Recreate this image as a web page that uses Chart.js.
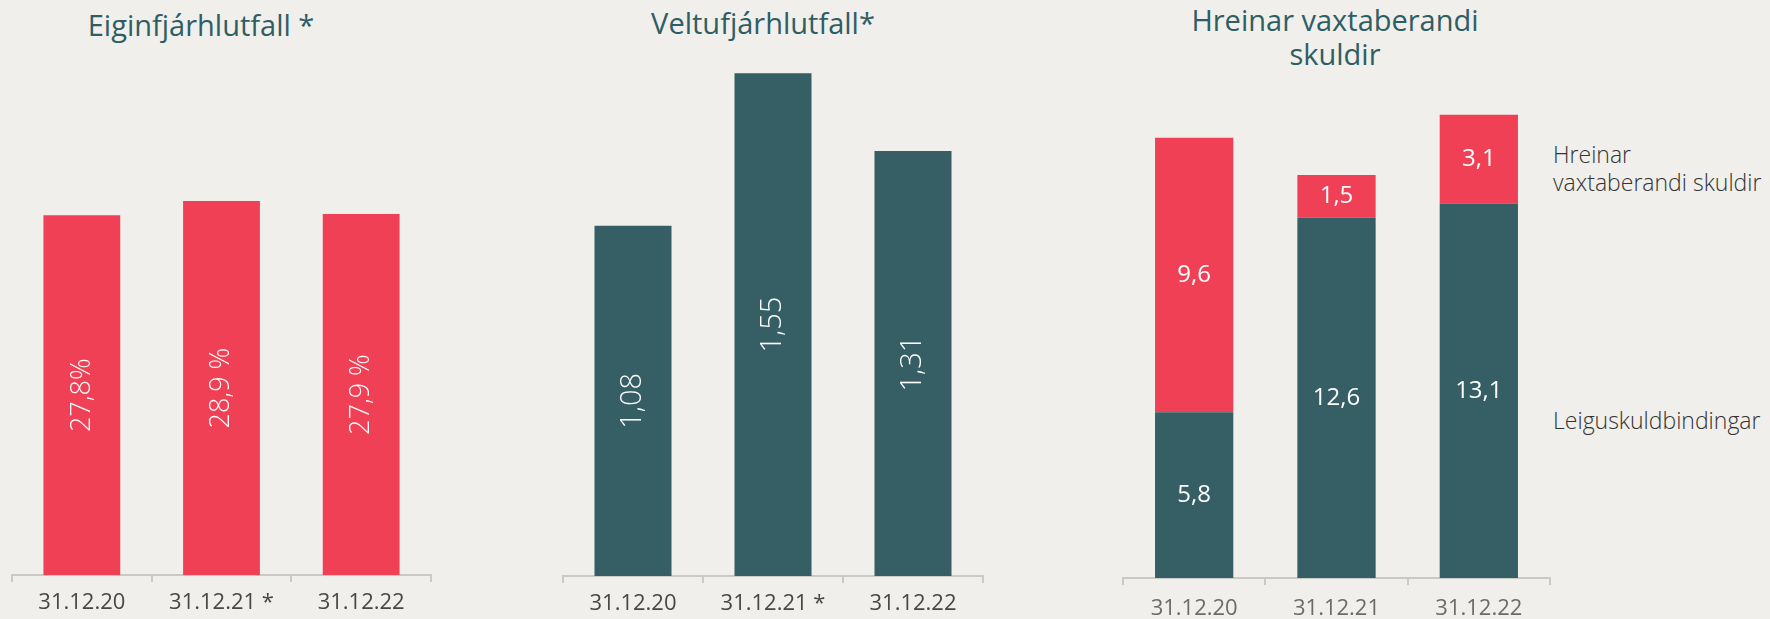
<!DOCTYPE html>
<html>
<head>
<meta charset="utf-8">
<script src="https://cdn.jsdelivr.net/npm/chart.js@4.4.1/dist/chart.umd.min.js"></script>
<style>
  body { margin: 0; background: #f0efeb; width: 1770px; height: 619px; overflow: hidden; font-family: "Open Sans", sans-serif; }
  .box { position: absolute; top: 0; height: 619px; }
  .title { position: absolute; width: 400px; text-align: center; color: #2f5d64; font-size: 29px; line-height: 34px; }
  .legend { position: absolute; left: 1553px; color: #333; font-size: 23px; line-height: 28px; font-weight: 300; white-space: nowrap; }
</style>
</head>
<body>
<div class="title" style="left: 1px; top: 8px;">Eiginfjárhlutfall *</div>
<div class="title" style="left: 563px; top: 6px;">Veltufjárhlutfall*</div>
<div class="title" style="left: 1135px; top: 3px;">Hreinar vaxtaberandi<br>skuldir</div>
<div class="legend" style="top: 140px;">Hreinar<br>vaxtaberandi skuldir</div>
<div class="legend" style="top: 406px;">Leiguskuldbindingar</div>

<div class="box" style="left: 0px; width: 450px;"><canvas id="equityChart"></canvas></div>
<div class="box" style="left: 540px; width: 470px;"><canvas id="currentChart"></canvas></div>
<div class="box" style="left: 1100px; width: 470px;"><canvas id="debtChart"></canvas></div>

<script>
const dates = ["31.12.20", "31.12.21 *", "31.12.22"];
const debtDates = ["31.12.20", "31.12.21", "31.12.22"];

const equityRatio = [27.8, 28.9, 27.9];
const equityText = ["27,8%", "28,9 %", "27,9 %"];

const currentRatio = [1.08, 1.55, 1.31];

const leaseLiabilities = [5.8, 12.6, 13.1];
const netDebt = [9.6, 1.5, 3.1];

const RED = "#ef4056";
const TEAL = "#365f65";
const AXIS = "#c9c9c7";
const FONT = "'Open Sans', sans-serif";

// white value labels in the middle of each bar
function makeLabelPlugin(format, size, weight, rotate) {
  return {
    id: "barLabels",
    afterDatasetsDraw(chart) {
      const ctx = chart.ctx;
      chart.data.datasets.forEach((ds, i) => {
        chart.getDatasetMeta(i).data.forEach((bar, j) => {
          const y = (bar.y + bar.base) / 2;
          ctx.save();
          ctx.translate(bar.x, y);
          if (rotate) ctx.rotate(-Math.PI / 2);
          ctx.font = weight + " " + size + "px " + FONT;
          ctx.fillStyle = "#ffffff";
          ctx.textAlign = "center";
          ctx.textBaseline = "middle";
          ctx.fillText(format(ds.data[j], j), 0, 0);
          ctx.restore();
        });
      });
    },
  };
}

function xAxis(height, color, size, pad, stacked) {
  return {
    stacked: stacked,
    grid: { offset: true, drawOnChartArea: false, drawTicks: true, tickLength: 7, color: AXIS, lineWidth: 2 },
    border: { display: true, color: AXIS, width: 2 },
    ticks: { color: color, font: { family: FONT, size: size }, padding: pad },
    afterFit(scale) {
      scale.height = height;
    },
  };
}

function createConfig(labels, datasets, max, padding, axisHeight, tickColor, tickPad, stacked) {
  return {
    type: "bar",
    data: { labels: labels, datasets: datasets },
    options: {
      responsive: true,
      maintainAspectRatio: false,
      animation: false,
      layout: { padding: padding },
      plugins: { legend: { display: false }, tooltip: { enabled: false } },
      scales: {
        x: xAxis(axisHeight, tickColor, 22, tickPad, stacked),
        y: { display: false, min: 0, max: max, stacked: stacked },
      },
    },
  };
}

const barStyle = { categoryPercentage: 1, barPercentage: 0.55, borderWidth: 0 };

const equityConfig = createConfig(
  dates,
  [{ data: equityRatio, backgroundColor: RED, ...barStyle }],
  32,
  { left: 12, right: 19, top: 161, bottom: 0 },
  44, "#474747", 8, false
);
equityConfig.plugins = [makeLabelPlugin((v, j) => equityText[j], 27, 300, true)];
new Chart(document.getElementById("equityChart"), equityConfig);

const currentConfig = createConfig(
  dates,
  [{ data: currentRatio, backgroundColor: TEAL, ...barStyle }],
  1.6,
  { left: 23, right: 27, top: 57, bottom: 0 },
  43, "#474747", 8, false
);
currentConfig.plugins = [makeLabelPlugin((v) => v.toFixed(2).replace(".", ","), 29, 300, true)];
new Chart(document.getElementById("currentChart"), currentConfig);

const debtConfig = createConfig(
  debtDates,
  [
    { label: "Leiguskuldbindingar", data: leaseLiabilities, backgroundColor: TEAL, ...barStyle },
    { label: "Hreinar vaxtaberandi skuldir", data: netDebt, backgroundColor: RED, ...barStyle },
  ],
  17,
  { left: 23, right: 20, top: 92, bottom: 0 },
  41, "#6b6b6b", 11, true
);
debtConfig.plugins = [makeLabelPlugin((v) => v.toFixed(1).replace(".", ","), 24, 400, false)];
new Chart(document.getElementById("debtChart"), debtConfig);
</script>
</body>
</html>
